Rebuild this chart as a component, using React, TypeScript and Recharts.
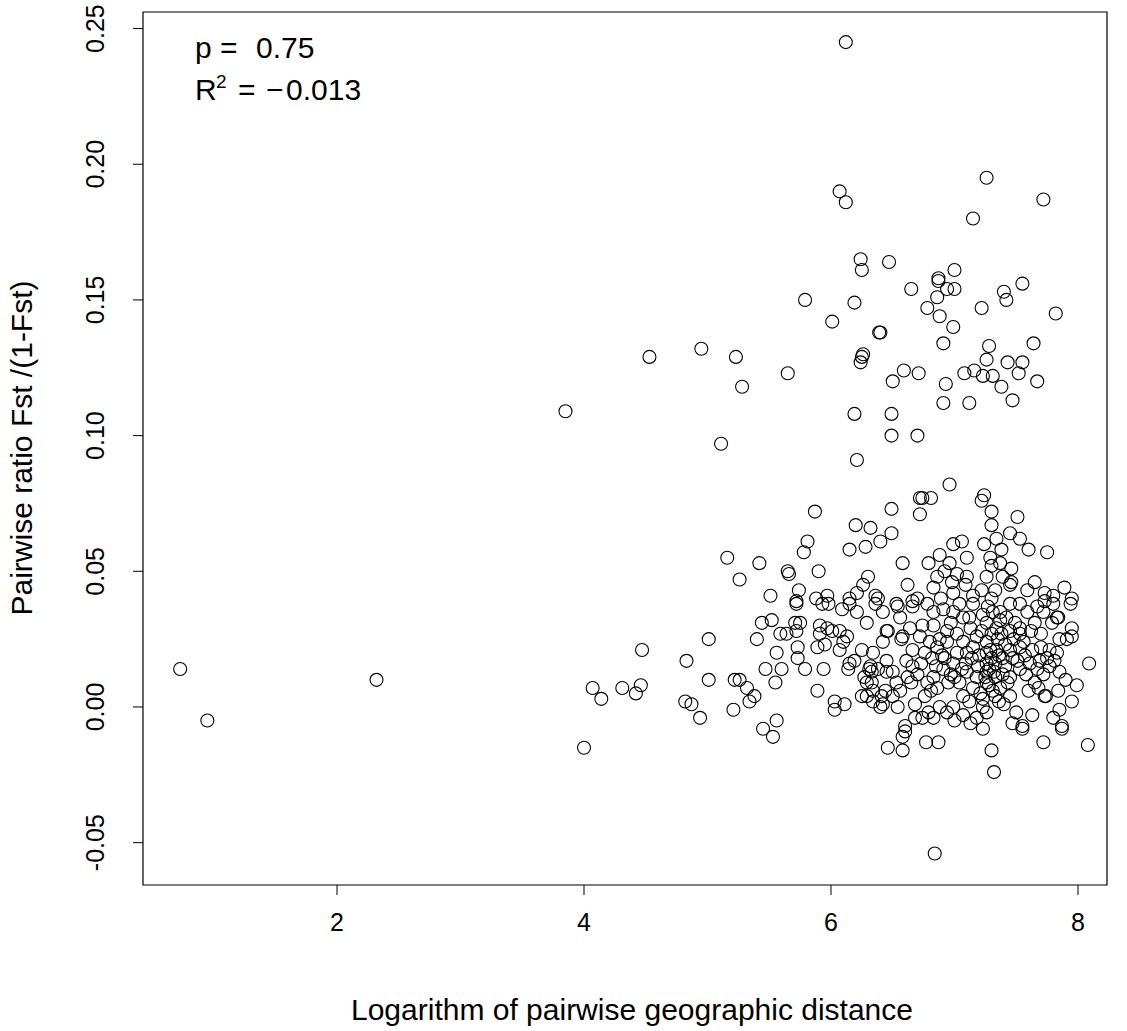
import React from 'react';
import { ScatterChart, Scatter, XAxis, YAxis, ReferenceArea } from 'recharts';

const font = '"Liberation Sans", Arial, sans-serif';

// Axis ranges and ticks
const xDomain = [0.429, 8.235];
const yDomain = [-0.0656, 0.2561];
const xTicks = [2, 4, 6, 8];
const yTicks = [-0.05, 0, 0.05, 0.1, 0.15, 0.2, 0.25];

// Isolated points on the left side of the plot
const farPoints = [
  [0.73, 0.014], [0.95, -0.005], [2.32, 0.01], [3.85, 0.109], [4.0, -0.015], [4.07, 0.007],
  [4.14, 0.003], [4.31, 0.007], [4.42, 0.005], [4.46, 0.008], [4.47, 0.021], [4.53, 0.129],
  [4.82, 0.002], [4.83, 0.017], [4.87, 0.001], [4.94, -0.004], [4.95, 0.132], [5.01, 0.01],
  [5.01, 0.025], [5.11, 0.097], [5.16, 0.055], [5.21, -0.001], [5.22, 0.01], [5.23, 0.129],
  [5.26, 0.047], [5.28, 0.118], [5.32, 0.007], [5.34, 0.002], [5.38, 0.004], [5.4, 0.025],
  [5.42, 0.053], [5.44, 0.031], [5.45, -0.008], [5.47, 0.014], [5.51, 0.041], [5.52, 0.032],
  [5.53, -0.011], [5.55, 0.009], [5.56, -0.005], [5.56, 0.02], [5.59, 0.027], [5.6, 0.014],
  [5.64, 0.027], [5.65, 0.123], [5.65, 0.05], [5.66, 0.049], [5.71, 0.031], [5.72, 0.028],
  [5.72, 0.039], [5.72, 0.038], [5.73, 0.022], [5.73, 0.018], [5.74, 0.043], [5.75, 0.031],
  [5.78, 0.057], [5.79, 0.15], [5.79, 0.014], [5.81, 0.061], [5.87, 0.072], [5.9, 0.05],
  [5.26, 0.01],
];

// Upper group, ratio above 0.085
const upperPoints = [
  [6.12, 0.245], [6.07, 0.19], [6.12, 0.186], [7.26, 0.195], [7.72, 0.187], [7.15, 0.18],
  [6.24, 0.165], [6.25, 0.161], [6.47, 0.164], [7.0, 0.161], [6.87, 0.157], [6.87, 0.158],
  [6.94, 0.154], [7.0, 0.154], [6.65, 0.154], [7.55, 0.156], [7.4, 0.153], [7.42, 0.15],
  [6.86, 0.151], [6.19, 0.149], [6.78, 0.147], [7.22, 0.147], [7.82, 0.145], [6.01, 0.142],
  [6.88, 0.144], [6.99, 0.14], [6.39, 0.138], [6.4, 0.138], [6.91, 0.134], [7.28, 0.133],
  [7.64, 0.134], [6.26, 0.13], [6.25, 0.129], [6.24, 0.127], [7.26, 0.128], [7.43, 0.127],
  [7.55, 0.127], [6.59, 0.124], [6.71, 0.123], [7.08, 0.123], [7.16, 0.124], [7.23, 0.122],
  [7.31, 0.122], [7.52, 0.123], [6.5, 0.12], [6.93, 0.119], [7.38, 0.118], [7.67, 0.12],
  [6.91, 0.112], [7.12, 0.112], [7.47, 0.113], [6.19, 0.108], [6.49, 0.108], [6.49, 0.1],
  [6.7, 0.1], [6.21, 0.091],
];

// Middle band, ratio 0.04 - 0.085
const middlePoints = [
  [6.2, 0.067], [6.32, 0.066], [6.49, 0.073], [6.49, 0.064], [6.4, 0.061], [6.28, 0.059],
  [6.15, 0.058], [6.3, 0.048], [6.21, 0.042], [6.36, 0.041], [6.15, 0.04], [6.38, 0.04],
  [5.88, 0.04], [5.97, 0.041], [6.72, 0.077], [6.72, 0.071], [6.96, 0.082], [6.74, 0.077],
  [6.81, 0.077], [7.24, 0.078], [7.22, 0.076], [7.3, 0.072], [7.3, 0.067], [7.51, 0.07],
  [7.45, 0.064], [7.53, 0.062], [7.6, 0.058], [7.75, 0.057], [7.06, 0.061], [6.99, 0.06],
  [7.24, 0.06], [7.34, 0.062], [7.38, 0.058], [7.1, 0.055], [6.88, 0.056], [6.79, 0.053],
  [6.96, 0.053], [7.29, 0.055], [6.92, 0.05], [7.3, 0.052], [7.37, 0.053], [7.46, 0.051],
  [6.86, 0.048], [7.1, 0.048], [7.02, 0.049], [7.26, 0.048], [7.39, 0.048], [6.83, 0.044],
  [7.45, 0.045], [7.46, 0.046], [7.65, 0.046], [7.89, 0.044], [7.59, 0.043], [7.73, 0.042],
  [7.95, 0.04], [6.99, 0.042], [7.22, 0.043], [7.15, 0.041], [7.3, 0.04], [7.8, 0.041],
  [6.66, 0.039], [6.7, 0.04], [6.53, 0.038], [6.58, 0.053], [6.62, 0.045],
];

// Dense lower cluster, x between 5.8 and 6.7
const clusterLeft = [
  [5.93, 0.038], [5.98, 0.038], [6.09, 0.036], [6.15, 0.038], [6.21, 0.035], [6.29, 0.031],
  [6.36, 0.038], [6.42, 0.035], [6.54, 0.037], [6.66, 0.037], [5.91, 0.03], [5.97, 0.029],
  [6.01, 0.028], [6.07, 0.028], [5.91, 0.027], [6.13, 0.026], [5.89, 0.022], [5.95, 0.023],
  [6.1, 0.024], [6.07, 0.021], [6.15, 0.016], [6.19, 0.017], [6.14, 0.014], [6.25, 0.021],
  [6.34, 0.02], [6.45, 0.028], [6.46, 0.028], [6.58, 0.026], [6.64, 0.029], [6.56, 0.033],
  [6.42, 0.024], [6.57, 0.025], [6.32, 0.015], [6.33, 0.013], [6.27, 0.011], [6.29, 0.009],
  [6.33, 0.009], [6.34, 0.006], [6.38, 0.014], [6.45, 0.013], [6.5, 0.013], [6.45, 0.017],
  [6.61, 0.017], [6.66, 0.021], [6.66, 0.015], [6.62, 0.011], [6.65, 0.009], [6.53, 0.009],
  [6.56, 0.006], [6.44, 0.006], [6.41, 0.004], [6.5, 0.004], [6.29, 0.004], [6.25, 0.004],
  [6.34, 0.002], [6.42, 0.001], [6.54, 0.0], [6.68, 0.001], [5.94, 0.014], [5.89, 0.006],
  [6.03, 0.002], [6.03, -0.001], [6.11, 0.001], [6.68, -0.004], [6.6, -0.007], [6.6, -0.009],
  [6.58, -0.011], [6.46, -0.015], [6.58, -0.016], [6.4, 0.0], [6.31, 0.014], [6.26, 0.045],
];

// Dense lower cluster, x above 6.7
const clusterRight = [
  [8.09, 0.016], [7.99, 0.008], [7.95, 0.002], [7.87, -0.007], [7.8, -0.004], [7.85, -0.001],
  [7.84, 0.006], [7.73, 0.004], [7.74, 0.004], [7.63, -0.003], [7.55, -0.007], [7.47, -0.006],
  [7.5, -0.002], [7.4, 0.001], [7.45, 0.004], [7.6, 0.006], [7.68, 0.007], [7.23, 0.0],
  [7.23, 0.003], [7.26, -0.002], [7.18, -0.004], [6.88, 0.0], [6.99, 0.0], [6.94, -0.002],
  [6.79, -0.002], [6.74, -0.004], [7.07, -0.003], [7.13, -0.006], [7.0, -0.005], [6.83, -0.004],
  [7.37, 0.007], [7.31, 0.006], [7.15, 0.007], [7.07, 0.004], [6.86, 0.007], [6.76, 0.004],
  [7.61, 0.016], [7.53, 0.014], [7.69, 0.017], [7.77, 0.015], [7.81, 0.017], [7.85, 0.013],
  [7.67, 0.014], [7.72, 0.012], [7.39, 0.012], [7.45, 0.011], [7.33, 0.011], [7.26, 0.013],
  [7.18, 0.011], [7.1, 0.013], [7.0, 0.011], [6.91, 0.014], [6.83, 0.011], [6.78, 0.009],
  [6.95, 0.009], [7.04, 0.009], [7.26, 0.009], [7.45, 0.021], [7.53, 0.022], [7.63, 0.021],
  [7.7, 0.022], [7.77, 0.021], [7.83, 0.02], [7.95, 0.026], [7.91, 0.025], [7.85, 0.025],
  [7.83, 0.033], [7.84, 0.033], [7.95, 0.029], [7.94, 0.038], [7.8, 0.038], [7.72, 0.035],
  [7.65, 0.031], [7.59, 0.035], [7.67, 0.037], [7.53, 0.029], [7.53, 0.027], [7.45, 0.028],
  [7.42, 0.033], [7.37, 0.032], [7.37, 0.035], [7.34, 0.029], [7.3, 0.027], [7.26, 0.024],
  [7.18, 0.026], [7.15, 0.022], [7.1, 0.02], [7.07, 0.024], [7.02, 0.027], [6.94, 0.024],
  [6.88, 0.025], [6.86, 0.022], [6.8, 0.024], [6.76, 0.02], [6.82, 0.018], [6.92, 0.018],
  [6.99, 0.016], [7.09, 0.016], [7.26, 0.016], [7.33, 0.016], [7.39, 0.018], [7.47, 0.018],
  [7.26, 0.02], [7.34, 0.021], [7.26, 0.031], [7.23, 0.034], [7.31, 0.035], [7.07, 0.033],
  [6.99, 0.035], [6.91, 0.036], [6.83, 0.035], [6.78, 0.038], [6.74, 0.03], [6.83, 0.03],
  [6.94, 0.028], [7.13, 0.029], [7.04, 0.038], [7.15, 0.038], [7.45, 0.038], [7.53, 0.038],
  [7.73, 0.039], [7.28, 0.014], [7.3, 0.018], [7.35, 0.025], [7.22, 0.028], [7.41, 0.023],
  [7.49, 0.031], [7.57, 0.019], [7.28, 0.008], [7.33, 0.004], [7.2, 0.019], [7.12, 0.033],
  [6.97, 0.031], [6.72, 0.026], [6.7, 0.012], [6.73, 0.016], [7.23, -0.008], [7.55, -0.008],
  [7.87, -0.008], [7.65, 0.009], [7.58, 0.012], [7.9, 0.01], [7.21, 0.005], [7.25, 0.011],
  [7.29, 0.021], [7.32, 0.013], [7.36, 0.019], [7.38, 0.027], [7.41, 0.015], [7.43, 0.009],
  [7.19, 0.015], [7.14, 0.018], [7.06, 0.014], [7.02, 0.02], [6.97, 0.012], [6.9, 0.019],
  [6.85, 0.015], [6.81, 0.006], [7.48, 0.025], [7.51, 0.017], [7.56, 0.024], [7.62, 0.028],
  [7.7, 0.027], [7.75, 0.018], [7.79, 0.031], [7.27, 0.037], [7.33, 0.043], [7.09, 0.045],
  [6.98, 0.046], [6.89, 0.04], [7.36, 0.002], [7.12, 0.002],
];

// Points below the cluster
const lowPoints = [
  [6.77, -0.013], [6.87, -0.013], [7.3, -0.016], [7.32, -0.024], [7.72, -0.013], [8.08, -0.014],
  [6.84, -0.054],
];

const data = [...farPoints, ...upperPoints, ...middlePoints, ...clusterLeft, ...clusterRight, ...lowPoints].map(
  ([x, y]) => ({ x, y })
);

const Ring = (props: any) => {
  const { cx, cy } = props;
  if (cx == null || cy == null) return null;
  return <circle cx={cx} cy={cy} r={6.5} fill="none" stroke="#000" strokeWidth={1.1} />;
};

const YTick = (props: any) => {
  const { x, y, payload } = props;
  return (
    <text
      x={x}
      y={y}
      transform={`rotate(-90, ${x}, ${y})`}
      textAnchor="middle"
      fontFamily={font}
      fontSize={25}
      fill="#000"
    >
      {Number(payload.value).toFixed(2)}
    </text>
  );
};

const App = () => {
  return (
    <div style={{ position: 'absolute', left: 0, top: 0, width: 1127, height: 1031, background: '#fff' }}>
      <ScatterChart width={1127} height={1031} margin={{ top: 12, right: 20, bottom: 0, left: 0 }}>
        <XAxis
          type="number"
          dataKey="x"
          domain={xDomain}
          ticks={xTicks}
          allowDataOverflow
          axisLine={false}
          tickLine={{ stroke: '#000' }}
          tickSize={10}
          tickMargin={18}
          height={146}
          tick={{ fill: '#000', fontSize: 25, fontFamily: font }}
        />
        <YAxis
          type="number"
          dataKey="y"
          domain={yDomain}
          ticks={yTicks}
          allowDataOverflow
          axisLine={false}
          tickLine={{ stroke: '#000' }}
          tickSize={10}
          tickMargin={29}
          width={143}
          tick={<YTick />}
        />
        <ReferenceArea
          x1={xDomain[0]}
          x2={xDomain[1]}
          y1={yDomain[0]}
          y2={yDomain[1]}
          fill="none"
          stroke="#000"
          strokeWidth={1.2}
        />
        <Scatter data={data} shape={<Ring />} isAnimationActive={false} />
      </ScatterChart>
      <svg
        width={1127}
        height={1031}
        style={{ position: 'absolute', left: 0, top: 0, pointerEvents: 'none' }}
        fontFamily={font}
        fontSize={30}
      >
        <text x={195} y={58}>p</text>
        <text x={220} y={58}>=</text>
        <text x={256} y={58}>0.75</text>
        <text x={195} y={100}>R</text>
        <text x={216} y={88} fontSize={19}>2</text>
        <text x={238} y={100}>=</text>
        <text x={266} y={100}>−</text>
        <text x={286} y={100}>0.013</text>
        <text x={632} y={1020} textAnchor="middle">
          Logarithm of pairwise geographic distance
        </text>
        <text x={32} y={448} textAnchor="middle" transform="rotate(-90, 32, 448)">
          Pairwise ratio Fst /(1-Fst)
        </text>
      </svg>
    </div>
  );
};

export default App;
